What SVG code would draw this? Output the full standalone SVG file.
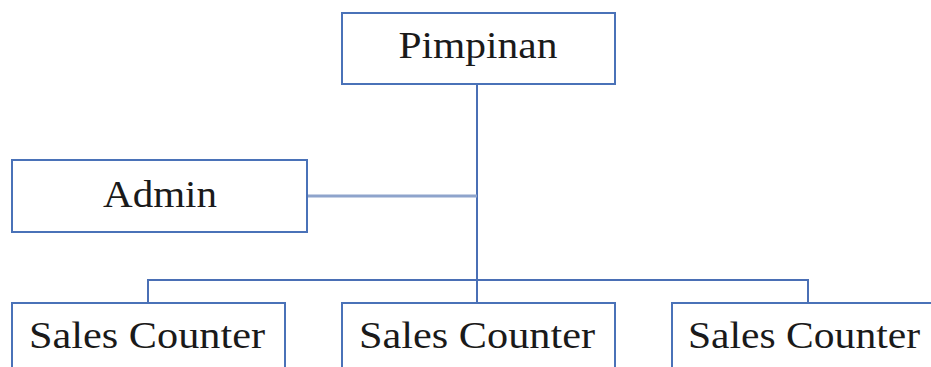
<svg xmlns="http://www.w3.org/2000/svg" width="931" height="367" viewBox="0 0 931 367">
<style>
.box{fill:#fff;stroke:#4a72b8;stroke-width:2}
.lbl{font-family:"Liberation Serif","Times New Roman",serif;font-size:38px;fill:#1a1a1a;text-anchor:middle}
.ln{fill:none;stroke:#4a6fb5;stroke-width:2}
.ln2{fill:none;stroke:#8ea4cc;stroke-width:3}
</style>
<rect width="931" height="367" fill="#fff"/>
<g id="connectors">
<line class="ln" x1="477" y1="84" x2="477" y2="303"/>
<line class="ln2" x1="307" y1="196" x2="477" y2="196"/>
<polyline class="ln" points="148,303 148,280 808,280 808,303"/>
</g>
<g id="pimpinan">
<rect class="box" x="342" y="13" width="273" height="71"/>
<text class="lbl" x="478" y="58" textLength="159" lengthAdjust="spacingAndGlyphs">Pimpinan</text>
</g>
<g id="admin">
<rect class="box" x="12" y="160" width="295" height="72"/>
<text class="lbl" x="160" y="207" textLength="114" lengthAdjust="spacingAndGlyphs">Admin</text>
</g>
<g id="sales1">
<rect class="box" x="12" y="303" width="273" height="80"/>
<text class="lbl" x="147" y="348" textLength="236" lengthAdjust="spacingAndGlyphs">Sales Counter</text>
</g>
<g id="sales2">
<rect class="box" x="342" y="303" width="273" height="80"/>
<text class="lbl" x="477" y="348" textLength="236" lengthAdjust="spacingAndGlyphs">Sales Counter</text>
</g>
<g id="sales3">
<rect class="box" x="672" y="303" width="273" height="80"/>
<text class="lbl" x="804" y="348" textLength="232" lengthAdjust="spacingAndGlyphs">Sales Counter</text>
</g>
</svg>
